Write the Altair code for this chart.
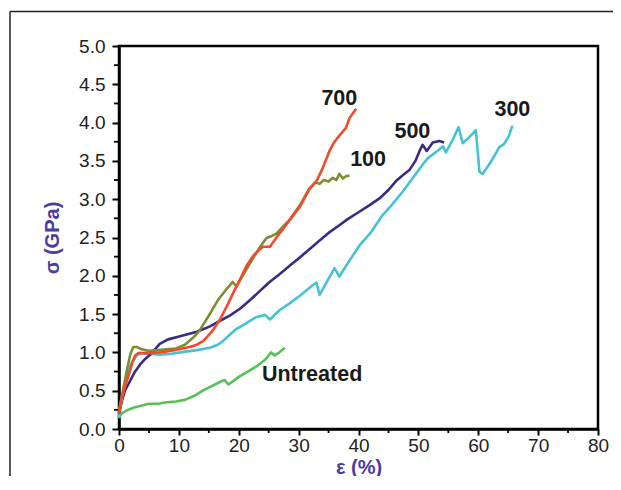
import altair as alt
import pandas as pd

# ---- axis ticks ----
x_ticks = [0, 10, 20, 30, 40, 50, 60, 70, 80]
x_minor = [5, 15, 25, 35, 45, 55, 65, 75]
y_ticks = [0.0, 0.5, 1.0, 1.5, 2.0, 2.5, 3.0, 3.5, 4.0, 4.5, 5.0]
y_minor = [0.25, 0.75, 1.25, 1.75, 2.25, 2.75, 3.25, 3.75, 4.25, 4.75]

# ---- series (drawing order) ----
series = ["Untreated", "300", "500", "100", "700"]
colors = ["#56c157", "#45c3d4", "#3a2a86", "#7d8d33", "#f24b2c"]

eps_untreated = [0, 0.3, 0.8, 1.5, 2.5, 3.5, 5, 6.5, 8, 9.5, 11, 12.5, 14, 15.5, 17, 17.6, 18.3,
                 20, 21.5, 23, 24.5, 25.4, 26, 26.6, 27.7]
sig_untreated = [0.14, 0.19, 0.22, 0.25, 0.28, 0.30, 0.33, 0.33, 0.35, 0.36, 0.38, 0.43, 0.50,
                 0.56, 0.62, 0.64, 0.58, 0.68, 0.75, 0.82, 0.91, 1.00, 0.96, 0.99, 1.06]

eps_300 = [0, 0.4, 0.9, 1.5, 2.2, 3, 3.5, 5.2, 6.8, 8.5, 10.2, 13, 15.2, 16.5, 17.4, 18.5, 19.5,
           20.8, 22.9, 24.4, 25.2, 26.8, 28.5, 30.2, 32.4, 33.0, 33.5, 35.2, 36.0, 36.8, 38.5,
           40.2, 42, 44, 45.5, 47.4, 49, 50.7, 51.5, 53, 54.1, 54.6, 55.7, 56.7, 57.4, 58.5,
           59.6, 60.2, 60.7, 61.8, 62.8, 63.5, 64.3, 65.1, 65.7]
sig_300 = [0.15, 0.35, 0.55, 0.75, 0.88, 0.96, 0.99, 0.98, 0.97, 0.98, 1.0, 1.03, 1.06, 1.1,
           1.15, 1.23, 1.3, 1.36, 1.46, 1.49, 1.43, 1.55, 1.64, 1.74, 1.88, 1.91, 1.75, 1.99,
           2.1, 1.99, 2.2, 2.4, 2.56, 2.79, 2.92, 3.1, 3.27, 3.45, 3.53, 3.62, 3.69, 3.61, 3.77,
           3.94, 3.73, 3.81, 3.9, 3.36, 3.33, 3.45, 3.58, 3.68, 3.72, 3.82, 3.96]

eps_500 = [0, 0.4, 1, 1.8, 2.6, 3.5, 4.3, 5.2, 6, 6.8, 8.2, 10.2, 13, 15.2, 16.8, 18.5, 20.2,
           22, 23.5, 25, 26.8, 28.5, 30.2, 32, 33.5, 35, 36.8, 38.2, 40, 41.8, 43.5, 45, 46.3,
           47.5, 48.5, 49.5, 50.2, 50.7, 51.4, 52.4, 53.5, 54.3]
sig_500 = [0.2, 0.35, 0.5, 0.62, 0.74, 0.84, 0.91, 0.97, 1.04, 1.11, 1.17, 1.21, 1.27, 1.34,
           1.41, 1.48, 1.57, 1.69, 1.8, 1.91, 2.02, 2.13, 2.24, 2.36, 2.46, 2.56, 2.66, 2.74,
           2.83, 2.92, 3.01, 3.12, 3.24, 3.32, 3.38, 3.5, 3.63, 3.71, 3.63, 3.74, 3.76, 3.74]

eps_100 = [0, 0.4, 0.9, 1.4, 1.9, 2.4, 3.0, 3.8, 5, 6.5, 8, 9.5, 11, 12.5, 13.5, 15, 16.5, 18,
           19, 19.6, 20.5, 22.4, 23.5, 24.6, 25.5, 26.3, 27.5, 28.5, 30.2, 31.8, 32.8, 33.5,
           34.2, 35, 35.7, 36.3, 36.8, 37.4, 37.9, 38.5]
sig_100 = [0.25, 0.4, 0.6, 0.8, 0.98, 1.07, 1.07, 1.04, 1.02, 1.03, 1.04, 1.05, 1.10, 1.20,
           1.29, 1.48, 1.68, 1.83, 1.92, 1.86, 1.98, 2.23, 2.37, 2.49, 2.52, 2.55, 2.65, 2.73,
           2.92, 3.14, 3.22, 3.2, 3.25, 3.23, 3.28, 3.25, 3.33, 3.27, 3.3, 3.31]

eps_700 = [0, 0.5, 1.0, 1.6, 2.2, 2.7, 3.2, 4, 5.2, 7, 8.5, 10, 11.8, 13, 14.1, 15.5, 16.8, 18,
           19.1, 20.2, 21.3, 22.5, 24, 25.2, 26.3, 27.5, 28.5, 30.2, 31.8, 33, 34, 35.2, 36,
           36.8, 37.9, 38.5, 39.6]
sig_700 = [0.2, 0.4, 0.55, 0.7, 0.86, 0.96, 0.99, 0.99, 0.99, 1.0, 1.02, 1.04, 1.07, 1.1, 1.15,
           1.27, 1.42, 1.6, 1.78, 1.95, 2.13, 2.27, 2.38, 2.38, 2.5, 2.62, 2.73, 2.9, 3.13, 3.24,
           3.4, 3.64, 3.75, 3.83, 3.93, 4.06, 4.18]

eps_all = [eps_untreated, eps_300, eps_500, eps_100, eps_700]
sig_all = [sig_untreated, sig_300, sig_500, sig_100, sig_700]

# ---- annotations ----
label_text = ["700", "100", "500", "300", "Untreated"]
label_eps = [36.8, 41.6, 49.0, 65.7, 32.25]
label_sig = [4.31, 3.51, 3.88, 4.16, 0.70]

FONT = "Liberation Sans"
TITLE_COLOR = "#4b3ca0"

X = alt.X("eps:Q",
          scale=alt.Scale(domain=[0, 80], nice=False, zero=False),
          axis=alt.Axis(values=x_ticks, title="ε (%)", labelPadding=1, tickSize=6,
                        titlePadding=2, labelFlush=False))
Y = alt.Y("sig:Q",
          scale=alt.Scale(domain=[0, 5], nice=False, zero=False),
          axis=alt.Axis(values=y_ticks, format=".1f", title="σ (GPa)", labelPadding=7,
                        tickSize=7, titlePadding=16, labelFlush=False))

layers = []

# outer figure frame (top and left edges; the others lie outside the page)
one = alt.Data(values=[{"a": 1}])
frame_top = alt.Chart(one).mark_rule(color="#222222", strokeWidth=1.5).encode(
    x=alt.value(-109), x2=alt.value(800), y=alt.value(-34.5))
frame_left = alt.Chart(one).mark_rule(color="#222222", strokeWidth=1.5).encode(
    x=alt.value(-109), y=alt.value(-34.5), y2=alt.value(800))
layers += [frame_top, frame_left]

# minor ticks
xm = alt.Chart(pd.DataFrame({"eps": x_minor})).mark_rule(color="black", strokeWidth=1.8).encode(
    x=X, y=alt.value(383), y2=alt.value(387))
ym = alt.Chart(pd.DataFrame({"sig": y_minor})).mark_rule(color="black", strokeWidth=1.8).encode(
    y=Y, x=alt.value(-5), x2=alt.value(0))
layers += [xm, ym]

for name, col, ex, sx in zip(series, colors, eps_all, sig_all):
    d = pd.DataFrame({"eps": ex, "sig": sx, "idx": list(range(len(ex)))})
    layers.append(
        alt.Chart(d).mark_line(color=col, strokeWidth=2.6, strokeJoin="round").encode(
            x=X, y=Y, order="idx:Q")
    )

lab = pd.DataFrame({"eps": label_eps, "sig": label_sig, "label": label_text})
layers.append(
    alt.Chart(lab).mark_text(font=FONT, fontSize=21.5, fontWeight="bold", color="#1a1a1a",
                             align="center", baseline="middle").encode(x=X, y=Y, text="label:N")
)

chart = alt.layer(*layers).properties(
    width=479, height=383,
    autosize=alt.AutoSizeParams(type="none"),
    padding={"left": 111, "top": 38, "right": 15, "bottom": 47},
).configure_view(
    stroke="black", strokeWidth=2.5
).configure_axis(
    grid=False, domainColor="black", domainWidth=2.5, tickColor="black", tickWidth=2,
    labelFont=FONT, labelFontSize=19, labelColor="#222222",
    titleFont=FONT, titleFontSize=20, titleFontWeight="bold", titleColor=TITLE_COLOR,
)

chart.save("out.html", embed_options={"renderer": "svg", "actions": False})
